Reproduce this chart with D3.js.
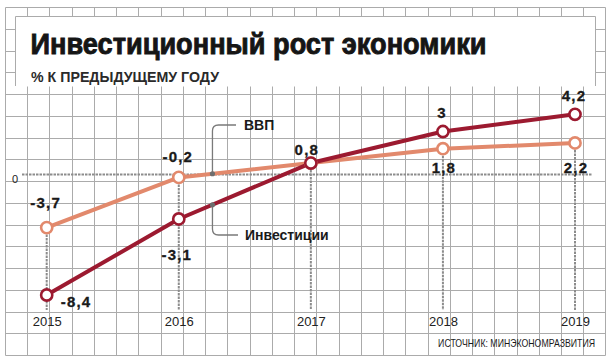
<!DOCTYPE html>
<html><head><meta charset="utf-8">
<script src="https://cdn.jsdelivr.net/npm/d3@7"></script>
<style>
html,body{margin:0;padding:0;background:#fff;}
svg{display:block;}
</style></head>
<body>
<script>
// ---- data ----
const years = ["2015", "2016", "2017", "2018", "2019"];
const gdp = [-3.7, -0.2, 0.8, 1.8, 2.2];
const invest = [-8.4, -3.1, 0.8, 3, 4.2];
const gdpLabels = ["-3,7", "-0,2", "0,8", "1,8", "2,2"];
const investLabels = ["-8,4", "-3,1", "", "3", "4,2"];
const seriesNames = ["ВВП", "Инвестиции"];
const zeroTick = ["0"];
const titleText = "Инвестиционный рост экономики";
const subtitleText = "% К ПРЕДЫДУЩЕМУ ГОДУ";
const sourceText = "ИСТОЧНИК: МИНЭКОНОМРАЗВИТИЯ";

// ---- layout ----
const W = 614, H = 363;
const cGdp = "#e2896c", cInv = "#9c1a30", cGrid = "#ababab", cDot = "#8c8c8c";
const svg = d3.select("body").append("svg").attr("width", W).attr("height", H);

const x = d3.scalePoint().domain(years).range([46.7, 575]);
const y = d3.scaleLinear().domain([-8.4, 4.2]).range([295, 114.3]);

// grid
const gx0 = 5, gy0 = 7.3, gdx = 22.24, gdy = 21.73, nCols = 27, nRows = 16;
const grid = svg.append("g").attr("stroke", cGrid).attr("stroke-width", 1);
grid.selectAll("line.v").data(d3.range(nCols + 1)).join("line")
  .attr("x1", k => Math.round(gx0 + k * gdx) + 0.5).attr("x2", k => Math.round(gx0 + k * gdx) + 0.5)
  .attr("y1", Math.round(gy0) + 0.5).attr("y2", Math.round(gy0 + nRows * gdy) + 0.5);
grid.selectAll("line.h").data(d3.range(nRows + 1)).join("line")
  .attr("y1", k => Math.round(gy0 + k * gdy) + 0.5).attr("y2", k => Math.round(gy0 + k * gdy) + 0.5)
  .attr("x1", Math.round(gx0) + 0.5).attr("x2", Math.round(gx0 + nCols * gdx) + 0.5);

// title box
svg.append("rect").attr("x", 15.5).attr("y", 16.5).attr("width", 580).attr("height", 70).attr("fill", "#fff");
svg.append("path").attr("d", "M15.5,86 V16.5 H595.5 V86").attr("fill", "none").attr("stroke", cGrid).attr("stroke-width", 1);

svg.append("text").attr("x", 30.5).attr("y", 54)
  .attr("font-family", "'Liberation Sans', Arial, sans-serif").attr("font-weight", "bold")
  .attr("font-size", 30).attr("fill", "#151515").attr("stroke", "#151515").attr("stroke-width", 0.9)
  .attr("textLength", 456).attr("lengthAdjust", "spacingAndGlyphs").text(titleText);
svg.append("text").attr("x", 31).attr("y", 82)
  .attr("font-family", "'Liberation Sans', Arial, sans-serif").attr("font-weight", "bold")
  .attr("font-size", 14).attr("fill", "#2a2a2a")
  .attr("textLength", 188).attr("lengthAdjust", "spacingAndGlyphs").text(subtitleText);

// zero line
svg.append("line").attr("x1", 22).attr("x2", 592).attr("y1", y(0)).attr("y2", y(0))
  .attr("stroke", cDot).attr("stroke-width", 2).attr("stroke-dasharray", "2.5,1");
svg.append("text").attr("x", 18).attr("y", y(0) + 8.5).attr("text-anchor", "end")
  .attr("font-family", "'Liberation Sans', Arial, sans-serif").attr("font-size", 11).attr("fill", "#222")
  .text(zeroTick[0]);

// vertical dotted lines from GDP points down
svg.append("g").selectAll("line").data(years).join("line")
  .attr("x1", d => x(d)).attr("x2", d => x(d))
  .attr("y1", (d, i) => y(gdp[i])).attr("y2", 310)
  .attr("stroke", cDot).attr("stroke-width", 2).attr("stroke-dasharray", "2.5,1");

// year axis
const xAxis = svg.append("g").attr("transform", "translate(0,316.5)")
  .call(d3.axisBottom(x).tickSize(0).tickPadding(0));
xAxis.select(".domain").remove();
xAxis.selectAll("text").attr("font-family", "'Liberation Sans', Arial, sans-serif")
  .attr("font-size", 13).attr("fill", "#222");

// annotation leaders
const t = 0.255;
const xa = x(years[1]) + (x(years[2]) - x(years[1])) * t;
const yg = y(gdp[1]) + (y(gdp[2]) - y(gdp[1])) * t;
const yi = y(invest[1]) + (y(invest[2]) - y(invest[1])) * t;
const lead = svg.append("g").attr("fill", "none").attr("stroke", "#7a7a7a").attr("stroke-width", 1.3);
lead.append("path").attr("d", `M${xa},${yg} V131 Q${xa},125 ${xa + 6},125 H236`);
lead.append("path").attr("d", `M${xa},${yi} V229 Q${xa},235 ${xa + 6},235 H238`);

// series lines
const line = d3.line().x((d, i) => x(years[i])).y(d => y(d));
svg.append("path").datum(gdp).attr("d", line).attr("fill", "none")
  .attr("stroke", cGdp).attr("stroke-width", 4).attr("stroke-linejoin", "round");
svg.append("path").datum(invest).attr("d", line).attr("fill", "none")
  .attr("stroke", cInv).attr("stroke-width", 4).attr("stroke-linejoin", "round");

// annotation dots
svg.append("circle").attr("cx", xa).attr("cy", yg).attr("r", 2.6).attr("fill", "#6e6e6e");
svg.append("circle").attr("cx", xa).attr("cy", yi).attr("r", 2.6).attr("fill", "#6e6e6e");

// circles
svg.append("g").selectAll("circle").data(gdp).join("circle")
  .attr("cx", (d, i) => x(years[i])).attr("cy", d => y(d)).attr("r", 5.6)
  .attr("fill", "#fff").attr("stroke", cGdp).attr("stroke-width", 2.6);
svg.append("g").selectAll("circle").data(invest).join("circle")
  .attr("cx", (d, i) => x(years[i])).attr("cy", d => y(d)).attr("r", 5.6)
  .attr("fill", "#fff").attr("stroke", cInv).attr("stroke-width", 2.6);

// value labels
const lblFont = "'Liberation Sans', Arial, sans-serif";
const gdpPos = [[-1, -20], [-1, -15.5], [-4, -8], [1, 24.5], [1, 30]];
const invPos = [[14, 12, "start"], [-2, 41], null, [-1, -13.5], [-1, -13]];
function addLabels(vals, labels, pos) {
  const items = vals.map((v, i) => ({ v, i, lab: labels[i], p: pos[i] })).filter(o => o.lab !== "");
  svg.append("g").selectAll("text").data(items).join("text")
    .attr("x", o => x(years[o.i]) + o.p[0])
    .attr("y", o => y(o.v) + o.p[1])
    .attr("text-anchor", o => o.p[2] || "middle")
    .attr("font-family", lblFont).attr("font-weight", "bold").attr("font-size", 15)
    .attr("letter-spacing", 1.2).attr("fill", "#1a1a1a")
    .attr("stroke", "#1a1a1a").attr("stroke-width", 0.3)
    .text(o => o.lab);
}
addLabels(gdp, gdpLabels, gdpPos);
addLabels(invest, investLabels, invPos);

// series name labels
svg.append("text").attr("x", 244).attr("y", 130).attr("font-family", lblFont).attr("font-weight", "bold")
  .attr("font-size", 14).attr("fill", "#1a1a1a").text(seriesNames[0]);
svg.append("text").attr("x", 245).attr("y", 240).attr("font-family", lblFont).attr("font-weight", "bold")
  .attr("font-size", 14).attr("fill", "#1a1a1a").text(seriesNames[1]);

// source (horizontally condensed via transform, right edge at 595)
const srcG = svg.append("g");
const src = srcG.append("text").attr("x", 0).attr("y", 0).attr("text-anchor", "end")
  .attr("font-family", lblFont).attr("font-size", 10.5).attr("fill", "#1a1a1a").text(sourceText);
const natW = src.node().getComputedTextLength() || 158;
const sx = Math.min(1, 157 / natW);
srcG.attr("transform", `translate(595,347) scale(${sx},1)`);
</script>
</body></html>
